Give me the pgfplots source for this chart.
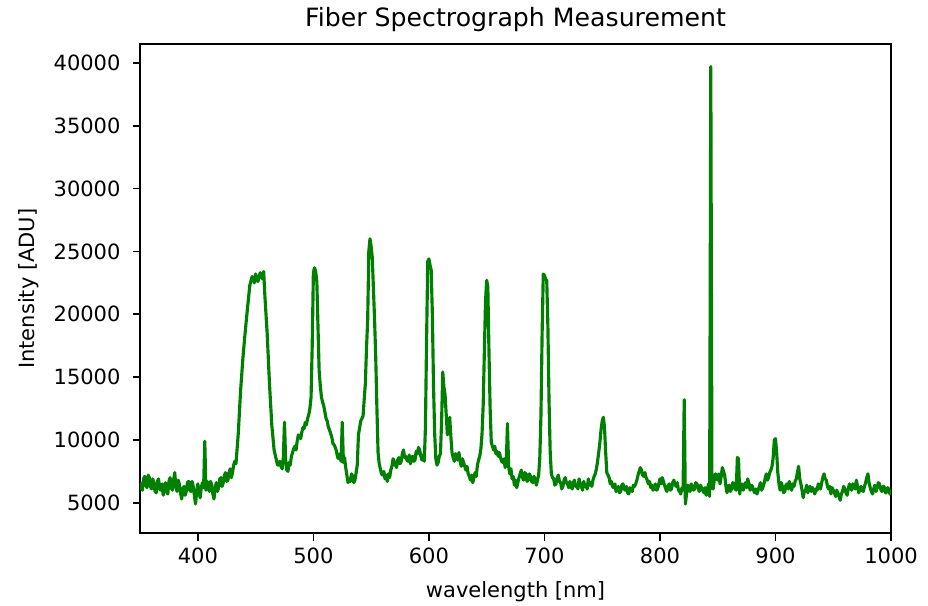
\documentclass[border=0pt]{standalone}
\usepackage{pgfplots}
\pgfplotsset{compat=1.18}
\usepackage{fontspec}
\setmainfont{DejaVu Sans}
\definecolor{mplgreen}{RGB}{0,128,0}
\pgfplotstableread{
x y
350 6600
351 6200
352 6000
353 6900
354 7100
355 6400
356 6200
357 7200
358 7000
359 6300
360 6100
361 6900
362 6500
363 5900
364 5800
365 6700
366 6900
367 6100
368 6000
369 6500
370 5600
371 6200
372 6600
373 5900
374 5700
375 6700
376 7000
377 6200
378 6000
379 6800
380 7400
381 6300
382 5900
383 6800
384 6500
385 5800
386 5300
387 6100
388 6300
389 5600
390 5900
391 6600
392 6700
393 6000
394 5900
395 6700
396 6300
397 5600
398 4900
399 5900
400 6500
401 5900
402 5400
403 6200
404 6600
405 6200
406 9900
407 6000
408 6700
409 6200
410 5900
411 6700
412 6400
413 5700
414 5300
415 6200
416 6600
417 5900
418 6200
419 6900
420 7000
421 6300
422 6600
423 7200
424 7400
425 6700
426 6800
427 7400
428 7700
429 7000
430 7400
431 8000
432 8300
433 8100
435 10500
437 13900
439 16500
441 18600
443 20500
445 22300
447 23000
449 22500
450 23200
452 22600
454 23300
456 22800
457 23400
458 21500
460 18500
462 14500
464 11200
466 9200
467 8800
468 8400
469 8000
470 8000
471 8300
472 7900
473 7700
474 8600
475 11400
476 8400
477 7600
478 7500
479 8200
480 8000
481 8700
482 9000
483 9300
484 9500
485 9200
486 9900
487 10400
488 10300
489 10100
490 10600
491 11000
492 10900
493 11400
494 11200
495 11700
496 12000
497 12500
498 13400
499 17500
500 23300
501 23700
502 23400
503 22600
504 19000
505 15500
506 14300
507 13400
508 13000
509 12700
510 12200
511 11700
512 11500
513 11000
514 10800
515 10500
516 10200
517 9700
518 9600
519 9400
520 9100
521 8600
522 8500
523 8900
524 8300
525 11400
526 8200
527 8600
528 7800
529 7200
530 6600
531 6900
532 6700
533 7300
534 7100
535 6600
536 6800
537 7400
538 8000
539 10400
541 11500
543 11900
545 14500
546 17300
547 19500
548 25000
549 26000
550 25400
551 24500
552 22000
553 19500
554 16500
555 12500
556 9000
557 8100
558 7700
559 7300
560 7200
561 7500
562 6900
563 7200
564 6700
565 7300
566 7000
567 7600
568 7900
569 8500
570 8300
571 8000
572 7800
573 8400
574 8600
575 8100
576 8300
577 8900
578 9200
579 8600
580 8700
581 8400
582 8300
583 8800
584 8100
585 8500
586 8700
587 8300
588 8400
589 9100
590 8900
591 9400
592 9200
593 8700
594 8400
595 8800
596 8300
597 11000
598 18000
599 24200
600 24400
601 23900
602 23500
603 20000
604 14300
605 10500
606 8500
607 8000
608 8200
609 8700
610 8900
611 11500
612 15400
613 14200
614 13600
615 12000
616 10400
617 11000
618 11800
619 10300
620 9000
621 8600
622 8300
623 8900
624 8800
625 8400
626 9000
627 8300
628 7900
629 8500
630 8200
631 7900
632 7600
633 7900
634 7300
635 7100
636 6800
637 7200
638 6600
639 7000
640 7400
641 7100
642 8000
643 8400
644 8700
645 9300
646 10500
647 12800
648 17000
649 21000
650 22700
651 22200
652 17000
653 12500
654 9800
655 9500
656 9200
657 9500
658 8900
659 9100
660 8700
661 9000
662 8600
663 8300
664 8200
665 8500
666 7800
667 8300
668 11300
669 7900
670 7300
671 7700
672 6900
673 7100
674 6400
675 6800
676 6200
677 6600
678 7000
679 7300
680 7600
681 7000
682 6800
683 7400
684 7300
685 6700
686 6800
687 7300
688 7100
689 6700
690 6600
691 7100
692 6900
693 6400
694 6800
695 7200
696 8600
697 12000
698 18500
699 23200
700 23100
701 22800
702 22700
703 19000
704 13000
705 9000
706 7300
707 7000
708 6900
709 6400
710 6500
711 7000
712 7200
713 6700
714 6600
715 6100
716 6300
717 6800
718 7000
719 6600
720 6500
721 6200
722 6700
723 6300
724 6100
725 6600
726 6800
727 6300
728 6400
729 6100
730 6900
731 6500
732 6300
733 6000
734 6700
735 6300
736 6400
737 6100
738 6900
739 6400
740 6600
741 6300
742 6800
743 7100
744 7300
745 7700
746 8300
747 9000
748 9800
749 10800
750 11500
751 11800
752 11000
753 9000
754 7400
755 7200
756 7000
757 6500
758 6700
759 6300
760 6200
761 6500
762 5900
763 6000
764 6300
765 5800
766 5900
767 6400
768 6500
769 6100
770 6000
771 6300
772 5800
773 5700
774 6200
775 6000
776 5900
777 6400
778 6300
779 6500
780 6800
781 7200
782 7500
783 7800
784 7600
785 7200
786 7100
787 7400
788 7000
789 6800
790 6500
791 6700
792 6200
793 6400
794 6000
795 6200
796 6500
797 6000
798 6100
799 6500
800 6900
801 6500
802 7000
803 6700
804 6400
805 6100
806 5900
807 6300
808 6500
809 6000
810 6100
811 6600
812 6800
813 6500
814 6300
815 6600
816 6000
817 5900
818 5700
819 6200
820 6000
821 13200
822 4900
823 5700
824 6400
825 6100
826 5900
827 6500
828 6300
829 6000
830 6100
831 6600
832 6500
833 6200
834 5900
835 6400
836 6200
837 6000
838 5800
839 6200
840 5600
841 6000
842 6500
843 5500
844 39700
845 6200
846 6100
847 6800
848 7300
849 7000
850 6800
851 7300
852 6500
853 7100
854 7800
855 7500
856 7200
857 6400
858 5800
859 6200
860 6400
861 5900
862 6100
863 6600
864 6500
865 6100
866 6000
867 8600
868 8500
869 5700
870 6300
871 6500
872 6000
873 6300
874 6600
875 6200
876 6900
877 6500
878 6000
879 6400
880 6300
881 6000
882 5800
883 6100
884 5700
885 6000
886 6300
887 6600
888 6000
889 6200
890 6500
891 6900
892 7300
893 6800
894 7000
895 7400
896 7600
897 7900
898 8600
899 10000
900 10100
901 9000
902 7400
903 6500
904 6000
905 6600
906 6300
907 5800
908 5900
909 6400
910 6500
911 6100
912 6700
913 6300
914 6000
915 6500
916 6300
917 6700
918 6900
919 7400
920 7900
921 6900
922 6500
923 6000
924 5400
925 5900
926 6000
927 6400
928 5800
929 6100
930 6300
931 5900
932 6200
933 6000
934 5700
935 6100
936 6000
937 6500
938 6400
939 6100
940 6600
941 7000
942 7300
943 6900
944 6800
945 6300
946 6100
947 6300
948 5700
949 6200
950 6000
951 5800
952 5500
953 6000
954 5800
955 5500
956 5200
957 5700
958 5900
959 6300
960 6100
961 5800
962 5600
963 6100
964 6500
965 6200
966 6000
967 6500
968 6400
969 6100
970 6800
971 6300
972 5800
973 6000
974 6300
975 6000
976 5900
977 6300
978 6600
979 7000
980 7300
981 6600
982 6200
983 5900
984 5700
985 6100
986 6400
987 5900
988 6200
989 6600
990 6500
991 6100
992 5900
993 6300
994 6300
995 5800
996 5800
997 6200
998 6100
999 5700
1000 5900
}\spectrum
\begin{document}
\begin{tikzpicture}
\path (-66.7pt,-34.3pt) rectangle (375.2pt,253.9pt);
\begin{axis}[
  scale only axis,
  width=357.6pt, height=232.9pt,
  xmin=350, xmax=1000,
  ymin=2580, ymax=41490,
  xtick={400,500,600,700,800,900,1000},
  ytick={5000,10000,15000,20000,25000,30000,35000,40000},
  scaled ticks=false,
  /pgf/number format/assume math mode=true,
  /pgf/number format/set thousands separator={},
  tick align=outside,
  tick pos=left,
  major tick length=3.5pt,
  axis line style={line width=0.8pt},
  every tick/.style={line width=0.8pt, black},
  tick label style={font=\fontsize{10}{12}\selectfont},
  yticklabel style={xshift=-2.3pt},
  every axis title shift=0pt,
  title={Fiber Spectrograph Measurement},
  title style={font=\fontsize{12}{14}\selectfont, inner sep=0pt, at={(axis description cs:0.5,1.05)}, anchor=center},
  xlabel={wavelength [nm]},
  xlabel style={font=\fontsize{10}{12}\selectfont, inner sep=0pt, at={(axis description cs:0.5,-0.12)}, anchor=center},
  ylabel={Intensity [ADU]},
  ylabel style={font=\fontsize{10}{12}\selectfont, inner sep=0pt, at={(axis description cs:-0.148,0.5)}, anchor=center},
]
\addplot[mplgreen, line width=1.5pt, line join=round, no marks] table[x=x,y=y] {\spectrum};
\end{axis}
\end{tikzpicture}
\end{document}
